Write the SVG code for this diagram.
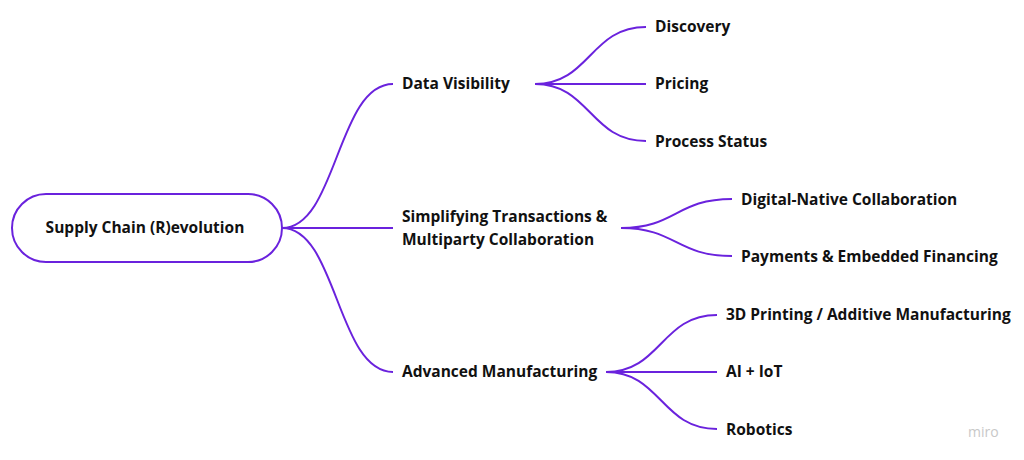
<svg xmlns="http://www.w3.org/2000/svg" width="1024" height="460" viewBox="0 0 1024 460">
<style>
text{font-family:"Open Sans","Noto Sans",sans-serif;font-weight:700;font-size:15.5px;fill:#111}
.c{fill:none;stroke:#6a22dd;stroke-width:2}
.wm{font-weight:400;fill:#c8c8c8;font-size:14px}
</style>
<rect width="1024" height="460" fill="#fff"/>
<g id="connectors">
<path class="c" d="M282 228 C337 228 337 84 393 84"/>
<path class="c" d="M282 228 L393 228"/>
<path class="c" d="M282 228 C337 228 337 372 393 372"/>
<path class="c" d="M535 84 C590 84 590 27 646 27"/>
<path class="c" d="M535 84 L646 84"/>
<path class="c" d="M535 84 C590 84 590 141 646 141"/>
<path class="c" d="M621 228 C676 228 676 199 732 199"/>
<path class="c" d="M621 228 C676 228 676 256 732 256"/>
<path class="c" d="M606 372 C661 372 661 315 717 315"/>
<path class="c" d="M606 372 L717 372"/>
<path class="c" d="M606 372 C661 372 661 429 717 429"/>
</g>
<g id="root">
<rect x="12" y="194" width="270" height="68" rx="34" fill="#fff" stroke="#6a22dd" stroke-width="2"/>
<text x="145" y="233" text-anchor="middle">Supply Chain (R)evolution</text>
</g>
<g id="data-visibility"><text x="402" y="89">Data Visibility</text></g>
<g id="discovery"><text x="655" y="32">Discovery</text></g>
<g id="pricing"><text x="655" y="89">Pricing</text></g>
<g id="process-status"><text x="655" y="147">Process Status</text></g>
<g id="simplifying"><text x="402" y="222">Simplifying Transactions &amp;</text><text x="402" y="245">Multiparty Collaboration</text></g>
<g id="digital-native"><text x="741" y="205">Digital-Native Collaboration</text></g>
<g id="payments"><text x="741" y="262">Payments &amp; Embedded Financing</text></g>
<g id="advanced"><text x="402" y="377">Advanced Manufacturing</text></g>
<g id="printing"><text x="726" y="320">3D Printing / Additive Manufacturing</text></g>
<g id="ai-iot"><text x="726" y="377">AI + IoT</text></g>
<g id="robotics"><text x="726" y="435">Robotics</text></g>
<text class="wm" x="968" y="437">miro</text>
</svg>
